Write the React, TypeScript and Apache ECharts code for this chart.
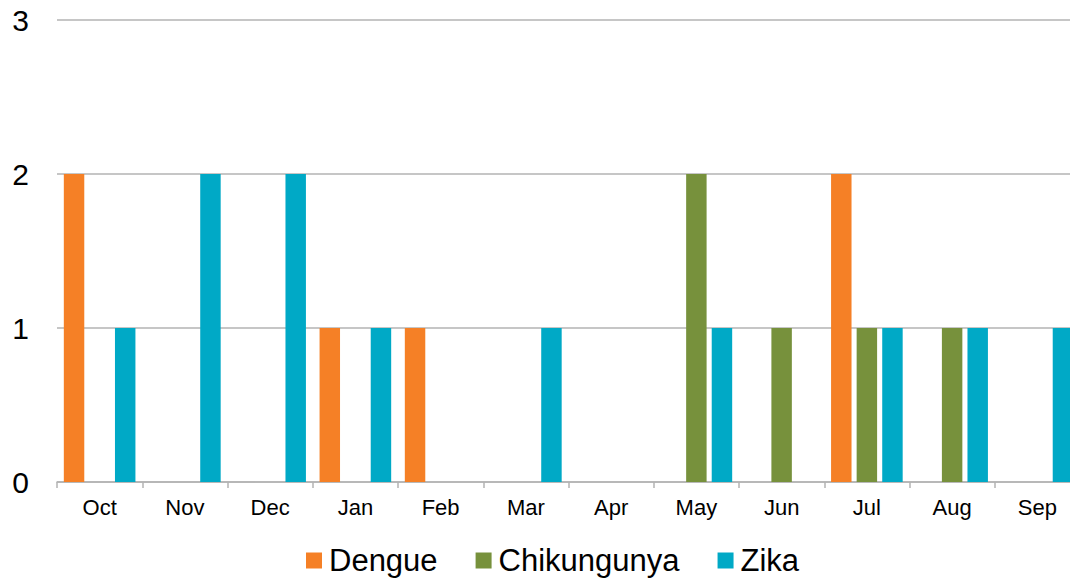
import React, { useEffect, useRef } from "react";
import * as echarts from "echarts";

const months = ["Oct", "Nov", "Dec", "Jan", "Feb", "Mar", "Apr", "May", "Jun", "Jul", "Aug", "Sep"];
const dengue = [2, 0, 0, 1, 1, 0, 0, 0, 0, 2, 0, 0];
const chikungunya = [0, 0, 0, 0, 0, 0, 0, 2, 1, 1, 1, 0];
const zika = [1, 2, 2, 1, 0, 1, 0, 1, 0, 1, 1, 1];
const yTicks = { min: 0, max: 3, interval: 1 };

const FONT = "Liberation Sans, Arial, sans-serif";

export default function App() {
  const ref = useRef<HTMLDivElement>(null);
  useEffect(() => {
    if (!ref.current) return;
    const chart = echarts.init(ref.current, undefined, { renderer: "svg" });
    const mk = (name: string, data: number[], color: string) => ({
      name,
      type: "bar",
      data,
      barGap: "25%",
      barCategoryGap: "16%",
      itemStyle: { color },
    });
    chart.setOption({
      animation: false,
      backgroundColor: "#ffffff",
      textStyle: { fontFamily: FONT },
      grid: { left: 57, right: 0, top: 20, bottom: 100, containLabel: false },
      xAxis: {
        type: "category",
        data: months,
        axisLine: { lineStyle: { color: "#b3b3b3", width: 1.5 } },
        axisTick: { show: true, length: 6, alignWithLabel: false, lineStyle: { color: "#b3b3b3", width: 1.5 } },
        axisLabel: { color: "#000", fontSize: 22, fontFamily: FONT, margin: 14 },
        splitLine: { show: false },
      },
      yAxis: {
        type: "value",
        min: yTicks.min,
        max: yTicks.max,
        interval: yTicks.interval,
        axisLine: { show: false },
        axisTick: { show: false },
        axisLabel: { color: "#000", fontSize: 30, fontFamily: FONT, margin: 28 },
        splitLine: { lineStyle: { color: "#b3b3b3", width: 1.5 } },
      },
      legend: {
        left: 306,
        top: 545,
        padding: 0,
        itemWidth: 16,
        itemHeight: 16,
        itemGap: 38,
        icon: "rect",
        textStyle: { color: "#000", fontSize: 31, fontFamily: FONT, padding: [0, 0, 0, 2] },
        data: ["Dengue", "Chikungunya", "Zika"],
      },
      series: [
        mk("Dengue", dengue, "#f58026"),
        mk("Chikungunya", chikungunya, "#77913c"),
        mk("Zika", zika, "#00a9c6"),
      ],
    });
    return () => chart.dispose();
  }, []);
  return (
    <div
      style={{ position: "fixed", left: 0, top: 0, width: 1070, height: 582, overflow: "hidden", background: "#fff" }}
    >
      <div ref={ref} style={{ width: 1080, height: 582 }} />
    </div>
  );
}
